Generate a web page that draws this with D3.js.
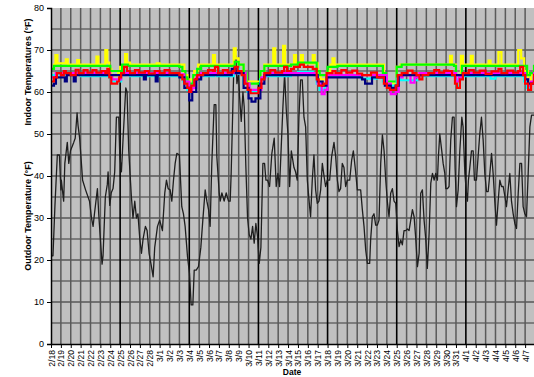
<!DOCTYPE html>
<html><head><meta charset="utf-8">
<script src="https://cdn.jsdelivr.net/npm/d3@7/dist/d3.min.js"></script>
<style>body{margin:0;background:#fff}svg{display:block;font-family:"Liberation Sans",Arial,sans-serif}</style>
</head><body><svg id="c" width="534" height="377"></svg>
<script>
const dateLabels = ["2/18","2/19","2/20","2/21","2/22","2/23","2/24","2/25","2/26","2/27","2/28","3/1","3/2","3/3","3/4","3/5","3/6","3/7","3/8","3/9","3/10","3/11","3/12","3/13","3/14","3/15","3/16","3/17","3/18","3/19","3/20","3/21","3/22","3/23","3/24","3/25","3/26","3/27","3/28","3/29","3/30","3/31","4/1","4/2","4/3","4/4","4/5","4/6","4/7"];
const yTicks = [0,10,20,30,40,50,60,70,80];

// outdoor temperature: [day offset from 2/18, °F]
const outdoor = [[0,25],[0.05,21],[0.2,21],[0.4,33],[0.64,45],[0.85,45],[1.0,36.7],[1.05,39],[1.28,34],[1.4,43],[1.65,48],[1.8,43],[1.97,46],[2.3,48],[2.45,49],[2.64,55],[2.74,52],[2.9,49],[3.2,39],[3.5,36.7],[3.9,34],[4.1,30],[4.26,28],[4.4,31],[4.7,37],[4.83,31],[5.0,25],[5.17,19],[5.27,21],[5.5,35],[5.7,38],[5.78,41],[5.95,33],[6.1,36],[6.28,37],[6.45,41],[6.62,54],[6.86,54],[6.96,45],[7.13,41],[7.3,49],[7.57,61],[7.7,60],[7.87,46],[8.14,35],[8.3,30],[8.48,34],[8.65,30],[8.8,31],[8.99,25],[9.16,21.6],[9.32,25],[9.56,28],[9.73,27],[9.93,21.6],[10.17,18.4],[10.34,16],[10.5,23],[10.78,28],[11.0,29.5],[11.28,27],[11.52,36],[11.69,39],[11.86,37],[12.06,36.7],[12.23,34],[12.4,39],[12.57,43],[12.74,45.4],[13.0,45],[13.24,32.7],[13.41,31],[13.58,28],[13.82,20.8],[14.02,16.8],[14.19,9.3],[14.36,9.3],[14.5,17.6],[14.7,17.6],[14.93,18.4],[15.17,23],[15.37,29.5],[15.61,36.7],[15.78,34],[15.95,32],[16.11,28],[16.28,43],[16.52,57],[16.69,57],[16.79,44.6],[17.03,36],[17.13,34],[17.3,36],[17.53,34],[17.74,36],[17.97,34],[18.14,34],[18.24,40.6],[18.41,56.5],[18.55,70],[18.72,68.4],[18.82,62],[18.99,64.4],[19.09,59],[19.26,53],[19.43,60],[19.56,56.5],[19.73,42],[19.9,30],[20.07,26],[20.24,25],[20.41,28],[20.57,24],[20.74,28.7],[20.91,25.6],[21.08,19.2],[21.25,23],[21.45,43],[21.62,43],[21.76,39],[21.93,39],[22.13,37.5],[22.36,45.4],[22.6,49],[22.8,37.5],[22.97,40.6],[23.14,37.5],[23.31,47],[23.48,56.5],[23.65,64.4],[23.82,55.7],[23.99,50],[24.16,37.5],[24.33,46],[24.6,42],[24.76,41],[24.93,39],[25.1,54],[25.27,62.9],[25.44,62.9],[25.61,54],[25.78,51.7],[25.95,39],[26.18,32.7],[26.28,30.3],[26.45,39],[26.62,45],[26.79,36.7],[26.96,33.5],[27.13,34],[27.3,36.7],[27.47,43],[27.64,40],[27.8,37.5],[27.97,39],[28.21,39],[28.41,44.6],[28.65,48],[28.82,44.6],[28.99,39],[29.16,36.3],[29.32,37],[29.49,43],[29.66,42],[29.83,37.5],[30.0,39],[30.24,39],[30.44,43.8],[30.61,46],[30.84,41],[31.01,36.7],[31.35,36.7],[31.52,32],[31.69,28],[31.86,22.4],[32.03,19.2],[32.26,19.2],[32.36,24.8],[32.53,30.3],[32.7,31],[32.87,28.3],[33.04,28.3],[33.21,29.5],[33.38,43],[33.55,49.8],[33.72,46],[33.89,39],[34.05,34],[34.22,30.3],[34.39,35.9],[34.56,37],[34.73,34],[34.9,33.5],[35.07,27],[35.24,23.2],[35.41,24.8],[35.57,23.6],[35.74,27],[35.91,27],[36.08,27.4],[36.25,27],[36.42,29.5],[36.59,32],[36.76,30.3],[36.93,25],[37.1,18.4],[37.27,21.6],[37.43,35.9],[37.6,36.7],[37.77,29.5],[37.94,25],[38.1,18],[38.28,26.3],[38.45,38.3],[38.62,40.6],[38.79,39],[38.95,40.6],[39.12,39],[39.22,44.6],[39.36,50],[39.56,46],[39.7,43],[39.87,40.6],[39.97,37],[40.14,37],[40.3,37.5],[40.47,48.6],[40.64,54],[40.81,54],[40.91,42],[41.05,32.7],[41.22,36.7],[41.39,46],[41.59,54],[41.72,51.7],[41.9,40.6],[42.06,35.9],[42.16,34],[42.26,39],[42.4,42],[42.57,46],[42.74,46],[42.87,39],[43.07,39],[43.24,44.6],[43.41,50],[43.58,54],[43.75,48.6],[43.92,40.6],[44.09,36.3],[44.26,36.3],[44.43,40.6],[44.6,45.4],[44.76,40.6],[44.93,34],[45.1,28.3],[45.27,34],[45.44,39],[45.61,37.5],[45.78,37.5],[45.95,35.2],[46.11,32.7],[46.28,36.7],[46.45,40.6],[46.62,34],[46.79,31],[46.96,28.7],[47.13,27.5],[47.3,35.9],[47.47,43],[47.64,43],[47.8,32.7],[47.97,31],[48.14,30.3],[48.31,40.6],[48.48,51.7],[48.65,54.5],[48.95,54.5]];

// indoor temperatures (six rooms), step series [day, °F]
const indoorYellow = [[0,65.5],[0.3,66.5],[0.45,68.8],[0.65,66.8],[1.5,67.8],[1.7,66.5],[2.65,67.6],[2.85,66.5],[4.6,68.4],[4.8,66.5],[5.5,70],[5.7,67],[5.9,65.5],[6.1,64],[6.8,64.5],[7.0,66],[7.5,69],[7.7,67],[8.0,66.5],[10.7,66.8],[11,66.5],[13.0,66.5],[13.5,64],[13.8,62.5],[14.1,63],[14.5,65],[14.9,66.5],[16.4,68.8],[16.6,66.5],[18.5,70.4],[18.7,68],[19.0,66.5],[19.5,64],[19.8,62.5],[20.8,62.5],[21.2,65],[21.6,66.5],[22.5,70.4],[22.7,66.5],[23.5,71],[23.7,66.5],[24.6,68.8],[24.8,66.8],[25.3,68.8],[25.5,66.8],[26.5,68.8],[26.7,66.8],[27.0,64],[27.3,63],[27.7,63],[28.0,65],[28.3,66.5],[28.5,68],[28.7,66.5],[33.4,66.5],[33.7,64],[34.0,62],[34.6,62],[35.0,66],[35.4,66.5],[40.4,68.6],[40.6,66.5],[41.0,64],[41.3,64],[41.5,68.6],[41.7,66.5],[42.5,68.6],[42.7,66.5],[44.3,67.5],[44.5,66.5],[45.3,69.5],[45.6,66.5],[47.3,70],[47.6,68],[47.9,65],[48.3,62.5],[48.6,64],[48.9,66],[49,66]];
const indoorGreen = [[0,65.5],[0.3,66.2],[5.8,66.2],[6.0,65],[6.9,65],[7.2,66.5],[7.8,66.2],[13.0,66],[13.3,65],[13.6,63.5],[13.8,62],[14.1,62],[14.4,64],[14.8,65.5],[15.2,66.2],[18.6,67.2],[19.0,66.5],[19.5,64.5],[19.8,62],[20.8,62],[21.2,65],[21.6,66.2],[24.3,66.5],[25.0,67],[26.6,67],[26.9,65],[27.2,64],[27.7,64],[28.0,66],[29,66.2],[33.4,66.2],[33.6,64.5],[33.9,62.5],[34.6,62.5],[35.0,66],[35.5,66.5],[40.8,66.2],[41.0,64],[41.3,64],[41.6,66.2],[48.0,66.2],[48.2,64],[48.5,64.5],[48.9,66.2],[49,66.2]];
const indoorCyan = [[0,64],[0.5,64.2],[3,63.8],[5.9,63.5],[6.1,62.5],[6.8,62.5],[7.1,64],[7.5,65],[8,63.8],[13,63.8],[13.4,62.5],[13.8,60.5],[14.2,61],[14.5,63],[15,63.8],[16.5,64.8],[16.8,63.8],[18.5,65.5],[19,64.3],[19.5,62],[19.9,60],[20.9,60.5],[21.2,63],[21.6,63.8],[24.3,64.3],[25,64.8],[26.5,64.3],[26.9,62],[27.2,60.5],[27.7,61.5],[28,63.8],[31.4,63.2],[32.4,63.2],[33.0,63.8],[33.6,62.5],[34,61.5],[34.6,61.5],[35,63.2],[35.4,62.8],[36.8,62.8],[37.2,63.8],[40.9,63],[41.1,61.5],[41.4,63.5],[41.7,63.8],[44.5,63.2],[45,63.8],[47.9,62.5],[48.2,61],[48.5,62],[48.9,63.8],[49,63.8]];
const indoorMagenta = [[0,63.5],[0.5,64.5],[6,64],[6.2,63],[6.8,63],[7.1,64.5],[8,64.5],[13,64.2],[13.5,62.5],[14,60],[14.3,61],[14.7,63.5],[15.2,64.5],[19.3,64.5],[19.7,62],[20.1,60.5],[20.9,60.5],[21.3,63.5],[21.7,64.5],[26.7,64],[27,62],[27.4,59.5],[27.7,60.5],[28,64],[33.5,64],[34,62],[34.4,59.5],[34.9,60],[35.2,63.5],[35.6,64],[36.4,62.2],[36.8,63.5],[37.3,64.5],[41,62.5],[41.3,63.5],[41.7,64.5],[48,63],[48.3,61.5],[48.6,62.5],[48.9,64.5],[49,64.5]];
const indoorNavy = [[0,61.5],[0.3,62],[0.5,63.5],[1.4,62.5],[1.6,64],[2.3,62.5],[2.5,64],[9.4,63],[9.6,64],[10.6,62.5],[10.8,64],[13,63.5],[13.5,61],[14.0,58],[14.3,60],[14.7,63],[15.2,64],[18.3,65.5],[18.7,64.5],[19.5,61],[20,58.5],[20.3,57.7],[20.7,58.5],[21.2,62],[21.6,64],[27,62.5],[27.5,61.5],[27.9,63.5],[31.5,63],[31.8,62],[32.2,62],[32.5,63.5],[33.8,61.5],[34.4,61],[34.9,61.5],[35.2,64],[48,63],[48.3,62],[48.9,64],[49,64]];
const indoorRed = [[0,62.5],[0.3,63.5],[0.6,64.5],[1.0,64],[1.3,65],[1.5,64.5],[2.0,64],[2.5,65.3],[2.8,64.5],[3.3,65.2],[3.7,64.6],[4.2,65.2],[4.6,64.6],[5.1,65],[5.5,64.5],[5.7,65.5],[5.9,63.5],[6.1,62],[6.7,62.5],[6.9,63.5],[7.1,64.5],[7.4,66],[7.7,65],[8.0,64.5],[8.5,65.2],[8.9,64.6],[9.5,65],[9.9,64.4],[10.5,65],[11.0,64.5],[11.5,65.2],[12,64.5],[13.0,64],[13.3,63],[13.5,62],[13.8,61],[14.0,60],[14.2,61.5],[14.5,63],[14.8,64],[15.4,64.5],[15.9,65.2],[16.4,65],[16.6,66],[16.9,64.5],[17.4,65.2],[17.9,64.6],[18.4,65],[18.6,66],[18.9,65],[19.3,64],[19.6,62],[19.9,60.5],[20.2,59.7],[21.0,61],[21.3,63],[21.6,64.5],[22.2,65.2],[22.7,64.6],[23.4,65],[23.6,66],[23.9,65],[24.3,65.5],[24.6,66],[25.2,66.5],[25.6,66],[26.5,65.5],[26.9,63],[27.1,61.5],[27.6,62],[27.9,64.5],[28.5,65],[28.8,64.5],[29.4,65.2],[29.9,64.6],[30.5,65.1],[31.0,64.4],[31.5,64],[32.4,64.6],[33.0,63.5],[33.7,62],[34.0,61],[34.3,60.5],[34.9,61.5],[35.1,64],[35.5,64.5],[36.1,65.1],[36.6,64.5],[37.0,64],[37.3,63],[37.6,64],[38.2,64.5],[38.8,65.2],[39.3,64.6],[39.8,65.1],[40.2,65],[40.6,64],[40.9,62],[41.1,61],[41.4,63],[41.7,64.5],[42.3,65.2],[42.8,64.6],[43.4,65.1],[44.0,64.3],[44.6,64.9],[45.3,65.5],[45.6,64.5],[46.2,65.1],[46.8,64.6],[47.3,65],[47.5,66],[47.8,64],[48.0,62],[48.3,60.5],[48.6,62],[48.9,64],[49,64]];

const indoorSeries = [
  {data: indoorYellow, color: "#ffff00"},
  {data: indoorGreen, color: "#00ff00"},
  {data: indoorCyan, color: "#00ffff"},
  {data: indoorMagenta, color: "#ff00ff"},
  {data: indoorNavy, color: "#000080"},
  {data: indoorRed, color: "#ff0000"}
];

const svg = d3.select("#c");
const L = 51, R = 535, T = 8, B = 344;
const x = d3.scaleLinear().domain([0, 49]).range([L, R]);
const y = d3.scaleLinear().domain([0, 80]).range([B, T]);

svg.append("rect").attr("x", L).attr("y", T).attr("width", R - L).attr("height", B - T).attr("fill", "#c0c0c0");
svg.append("clipPath").attr("id", "clip").append("rect").attr("x", L).attr("y", T).attr("width", R - L).attr("height", B - T);

// horizontal gridlines
const hg = d3.range(5, 80, 5);
svg.append("g").selectAll("line").data(hg).join("line")
  .attr("x1", L).attr("x2", R).attr("y1", d => y(d)).attr("y2", d => y(d))
  .attr("stroke", d => d % 10 === 0 ? "#222" : "#3a3a3a").attr("stroke-width", 1.1);
// vertical gridlines
svg.append("g").selectAll("line").data(d3.range(1, 50)).join("line")
  .attr("x1", d => x(d)).attr("x2", d => x(d)).attr("y1", T).attr("y2", B)
  .attr("stroke", d => d % 7 === 0 ? "#000" : "#5a5a5a").attr("stroke-width", d => d % 7 === 0 ? 1.6 : 1.5);

const plot = svg.append("g").attr("clip-path", "url(#clip)");
plot.append("path").datum(outdoor)
  .attr("d", d3.line().x(d => x(d[0])).y(d => y(d[1])))
  .attr("fill", "none").attr("stroke", "#1e1e1e").attr("stroke-width", 1.3).attr("stroke-linejoin", "round");

const stepLine = d3.line().x(d => x(d[0])).y(d => y(d[1])).curve(d3.curveStepAfter);
indoorSeries.forEach(s => {
  plot.append("path").datum(s.data).attr("d", stepLine)
    .attr("fill", "none").attr("stroke", s.color).attr("stroke-width", 2.2);
});

// axes
const yAxis = svg.append("g").attr("transform", `translate(${L},0)`)
  .call(d3.axisLeft(y).tickValues(yTicks).tickSize(4).tickPadding(3).tickFormat(d3.format("d")));
yAxis.select(".domain").attr("stroke", "#000").attr("stroke-width", 1.5);
yAxis.selectAll("text").attr("font-size", 9).attr("fill", "#000").attr("font-family", "Liberation Sans, Arial, sans-serif");

const xAxis = svg.append("g").attr("transform", `translate(0,${B})`)
  .call(d3.axisBottom(x).tickValues(d3.range(dateLabels.length)).tickFormat(i => dateLabels[i]).tickSize(4).tickSizeOuter(0));
xAxis.select(".domain").attr("stroke", "#000").attr("stroke-width", 1.5);
xAxis.selectAll("text").attr("font-size", 8.6).attr("fill", "#000")
  .attr("font-family", "Liberation Sans, Arial, sans-serif")
  .attr("transform", "rotate(-90)").attr("text-anchor", "end")
  .attr("x", -6).attr("y", 0).attr("dy", "0.35em");

// titles
svg.append("text").attr("transform", "translate(31,72) rotate(-90)").attr("text-anchor", "middle")
  .attr("font-size", 9).attr("font-weight", "bold").text("Indoor Temperatures (°F)");
svg.append("text").attr("transform", "translate(31,216) rotate(-90)").attr("text-anchor", "middle")
  .attr("font-size", 9).attr("font-weight", "bold").text("Outdoor Temperature (°F)");
svg.append("text").attr("x", 292).attr("y", 375).attr("text-anchor", "middle")
  .attr("font-size", 8.5).attr("font-weight", "bold").text("Date");
</script></body></html>
